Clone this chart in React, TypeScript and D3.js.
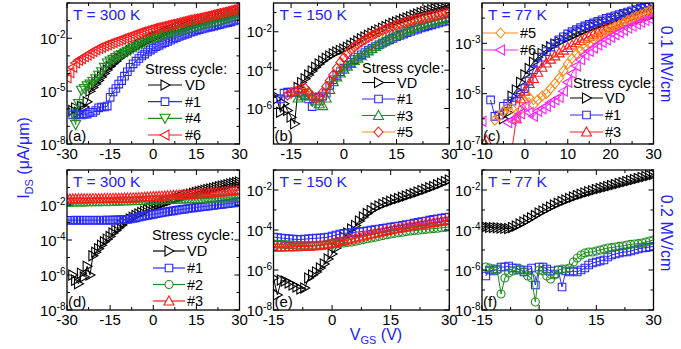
import * as d3 from "d3";

const FONT = "'Liberation Sans', Arial, Helvetica, sans-serif";
const TXT_BLUE = "#2222ff";
const C = { k: "#000000", b: "#2a2aff", g: "#1e8c1e", r: "#ff1a1a", o: "#ff8c1a", m: "#ff22ff" };

// log10(I_DS) values, 1 V steps; null = no point
const a_VD = [-6.1,-5.95,-6.2,-5.85,-5.9,-5.6,-5.0,-4.8,-4.6,-4.4,
  -4.2,-4.0,-3.8,-3.6,-3.45,-3.3,-3.15,-3.02,-2.9,-2.8,
  -2.7,-2.6,-2.5,-2.4,-2.3,-2.21,-2.13,-2.05,-1.97,-1.9,
  -1.83,-1.76,-1.69,-1.62,-1.56,-1.5,-1.44,-1.38,-1.32,-1.27,
  -1.22,-1.17,-1.12,-1.07,-1.02,-0.98,-0.94,-0.9,-0.86,-0.82,
  -0.78,-0.74,-0.7,-0.66,-0.62,-0.58,-0.54,-0.5,-0.46];
const a_1 = [-6.35,-6.35,-6.3,-6.35,-6.3,-6.3,-6.2,-6.2,-6.1,-5.95,
  -5.9,-5.9,-5.85,-5.35,-5.05,-4.85,-4.6,-4.4,-4.15,-3.9,
  -3.65,-3.45,-3.3,-3.15,-3.0,-2.9,-2.78,-2.67,-2.57,-2.48,
  -2.4,-2.32,-2.25,-2.18,-2.11,-2.04,-1.97,-1.9,-1.84,-1.78,
  -1.72,-1.66,-1.61,-1.56,-1.51,-1.47,-1.43,-1.39,-1.35,-1.31,
  -1.27,-1.23,-1.19,-1.15,-1.11,-1.07,-1.02,-0.97,-0.92];
const a_4 = [-6.25,-6.9,-5.7,-4.95,-4.85,-4.7,-4.6,-4.45,-4.3,-4.1,
  -3.9,-3.65,-3.4,-3.3,-3.2,-3.1,-3.0,-2.92,-2.84,-2.76,
  -2.68,-2.58,-2.49,-2.4,-2.32,-2.24,-2.16,-2.08,-2.01,-1.95,
  -1.9,-1.85,-1.8,-1.75,-1.7,-1.65,-1.6,-1.56,-1.52,-1.48,
  -1.44,-1.4,-1.36,-1.32,-1.27,-1.23,-1.19,-1.15,-1.11,-1.07,
  -1.03,-0.99,-0.94,-0.89,-0.84,-0.79,-0.74,-0.69,-0.64];
const a_6 = [-4.25,-3.95,-3.65,-3.4,-3.25,-3.15,-3.05,-2.95,-2.85,-2.75,
  -2.65,-2.57,-2.5,-2.43,-2.37,-2.3,-2.24,-2.18,-2.12,-2.06,
  -2.0,-1.94,-1.88,-1.82,-1.76,-1.7,-1.65,-1.6,-1.55,-1.5,
  -1.45,-1.41,-1.37,-1.33,-1.29,-1.25,-1.21,-1.17,-1.13,-1.09,
  -1.05,-1.01,-0.97,-0.94,-0.91,-0.88,-0.84,-0.8,-0.76,-0.72,
  -0.68,-0.64,-0.6,-0.56,-0.52,-0.48,-0.44,-0.4,-0.36,-0.32,-0.28];

const b_VD = [-5.3,-5.5,-6.2,-5.75,-6.1,-6.45,-6.8,-4.9,-4.65,-4.45,
  -4.25,-4.05,-3.85,-3.68,-3.52,-3.38,-3.26,-3.15,-3.05,-2.97,
  -2.9,-2.8,-2.7,-2.6,-2.48,-2.36,-2.27,-2.18,-2.08,-1.99,
  -1.9,-1.81,-1.72,-1.64,-1.56,-1.49,-1.42,-1.35,-1.28,-1.21,
  -1.14,-1.07,-1.01,-0.95,-0.9,-0.85,-0.8,-0.75,-0.7,-0.65,-0.6];
const b_1 = [-5.5,-5.2,-5.15,-5.15,-5.15,-5.15,-5.2,-5.3,-5.5,-5.9,
  -5.4,-5.4,-5.35,-5.2,-4.8,-4.5,-4.27,-4.08,-3.9,-3.74,
  -3.59,-3.45,-3.32,-3.2,-3.08,-2.97,-2.87,-2.77,-2.68,-2.59,
  -2.5,-2.42,-2.34,-2.26,-2.19,-2.12,-2.05,-1.98,-1.92,-1.86,
  -1.8,-1.74,-1.69,-1.64,-1.59,-1.54,-1.49,-1.45,-1.41];
const b_3 = [-5.45,-5.35,-5.3,-5.15,-5.35,-5.6,-5.75,-5.85,-5.45,-5.0,
  -4.6,-4.35,-4.15,-3.95,-3.8,-3.65,-3.5,-3.38,-3.25,-3.12,
  -3.0,-2.88,-2.76,-2.64,-2.53,-2.42,-2.32,-2.22,-2.13,-2.05,
  -1.97,-1.9,-1.83,-1.76,-1.7,-1.64,-1.58,-1.53,-1.48,-1.43,
  -1.38,-1.34,-1.3,-1.26];
const b_5 = [-5.3,-5.2,-5.1,-5.05,-4.98,-4.95,-5.15,-5.4,-5.45,-5.4,
  -5.15,-4.85,-4.55,-4.25,-3.9,-3.6,-3.35,-3.13,-2.95,-2.8,
  -2.66,-2.53,-2.41,-2.3,-2.2,-2.1,-2.01,-1.93,-1.85,-1.78,
  -1.71,-1.65,-1.59,-1.53,-1.48,-1.43,-1.38,-1.34,-1.3,-1.26,
  -1.22,-1.18,-1.14,-1.1,-1.06,-1.02,-0.98];

const c_VD = [-6.0,-5.75,-5.1,-4.85,-4.55,-4.25,-4.0,-3.75,-3.55,-3.4,
  -3.26,-3.14,-3.03,-2.94,-2.86,-2.78,-2.7,-2.62,-2.54,-2.47,
  -2.4,-2.33,-2.27,-2.21,-2.15,-2.09,-2.03,-1.96,-1.9,-1.84,
  -1.78,-1.72,-1.67,-1.62,-1.57,-1.52];
const c_1 = [-5.25,-5.9,-5.85,-5.5,-5.4,-5.3,-5.15,-5.0,-4.8,-4.5,
  -4.05,-3.8,-3.55,-3.33,-3.15,-3.0,-2.86,-2.74,-2.63,-2.54,
  -2.46,-2.38,-2.31,-2.25,-2.19,-2.13,-2.07,-2.01,-1.96,-1.91,
  -1.86,-1.81,-1.76,-1.71,-1.66,-1.61,-1.56,-1.51,-1.46];
const c_3 = [-6.85,-7.4,-7.6,-7.6,-7.5,-7.3,-7.2,-6.0,-5.2,-4.9,
  -4.6,-4.4,-4.15,-3.95,-3.78,-3.63,-3.5,-3.38,-3.27,-3.17,
  -3.07,-2.98,-2.89,-2.8,-2.72,-2.64,-2.57,-2.5,-2.43,-2.37,
  -2.31,-2.25,-2.19,-2.13,-2.07,-2.01,-1.95,-1.89,-1.83,-1.77];
const c_5 = [-6.05,-5.9,-5.7,-5.56,-5.6,-5.95,-5.65,-5.3,-5.15,-5.45,
  -5.25,-5.1,-5.0,-4.8,-4.6,-4.38,-4.1,-3.82,-3.6,-3.42,
  -3.28,-3.15,-3.02,-2.84,-2.74,-2.64,-2.54,-2.45,-2.36,-2.27,
  -2.18,-2.09,-2.01,-1.93,-1.86,-1.79,-1.72,-1.65];
const c_6 = [-6.1,null,null,null,null,null,-6.15,-6.05,-5.95,-5.8,
  -5.5,-5.75,-5.9,-5.7,-5.6,-5.5,-5.35,-5.25,-5.15,-4.9,
  -4.55,-4.2,-3.9,-3.65,-3.47,-3.32,-3.19,-3.07,-2.96,-2.86,
  -2.76,-2.66,-2.57,-2.48,-2.4,-2.32,-2.24,-2.16,-2.09,-2.02,-1.96];

const d_VD = [-6.0,-6.3,-6.5,-5.9,-6.1,-5.5,-6.0,-4.9,-4.7,-4.5,
  -4.3,-4.1,-3.95,-3.8,-3.6,-3.45,-3.3,-3.15,-3.0,-2.9,
  -2.8,-2.7,-2.6,-2.51,-2.43,-2.35,-2.27,-2.19,-2.11,-2.05,
  -1.99,-1.93,-1.87,-1.81,-1.75,-1.69,-1.63,-1.58,-1.53,-1.48,
  -1.43,-1.38,-1.33,-1.28,-1.24,-1.2,-1.16,-1.12,-1.08,-1.04,
  -1.0,-0.96,-0.92,-0.88,-0.84,-0.8,-0.76,-0.72,-0.68];
const d_1 = [-2.87,-2.87,-2.87,-2.86,-2.87,-2.87,-2.86,-2.87,-2.87,-2.86,
  -2.87,-2.87,-2.86,-2.87,-2.86,-2.86,-2.86,-2.85,-2.85,-2.84,
  -2.83,-2.82,-2.8,-2.77,-2.73,-2.69,-2.65,-2.62,-2.59,-2.56,
  -2.53,-2.5,-2.47,-2.44,-2.41,-2.38,-2.35,-2.33,-2.3,-2.28,
  -2.25,-2.23,-2.2,-2.18,-2.16,-2.14,-2.12,-2.1,-2.08,-2.06,
  -2.04,-2.02,-2.0,-1.98,-1.96,-1.94,-1.92,-1.9,-1.88,-1.85,-1.82];
const d_2 = [-1.85,-1.85,-1.85,-1.84,-1.84,-1.84,-1.84,-1.83,-1.83,-1.83,
  -1.82,-1.82,-1.82,-1.81,-1.81,-1.81,-1.8,-1.8,-1.79,-1.79,
  -1.78,-1.78,-1.77,-1.77,-1.76,-1.76,-1.75,-1.74,-1.74,-1.73,
  -1.72,-1.72,-1.71,-1.71,-1.7,-1.7,-1.69,-1.69,-1.68,-1.68,
  -1.67,-1.67,-1.66,-1.66,-1.65,-1.65,-1.64,-1.64,-1.63,-1.63,
  -1.62,-1.62,-1.61,-1.61,-1.6,-1.6,-1.59,-1.59,-1.58,-1.58,-1.57];
const d_3 = [-1.65,-1.65,-1.65,-1.65,-1.64,-1.64,-1.64,-1.64,-1.64,-1.63,
  -1.63,-1.63,-1.63,-1.62,-1.62,-1.62,-1.62,-1.61,-1.61,-1.61,
  -1.6,-1.6,-1.59,-1.59,-1.58,-1.57,-1.56,-1.55,-1.54,-1.53,
  -1.52,-1.51,-1.5,-1.49,-1.48,-1.47,-1.46,-1.45,-1.44,-1.43,
  -1.42,-1.41,-1.4,-1.39,-1.38,-1.36,-1.35,-1.34,-1.33,-1.32,
  -1.3,-1.29,-1.27,-1.26,-1.24,-1.23,-1.21,-1.2,-1.18,-1.17,-1.15];

const e_VD = [-6.4,-7.25,-6.5,-6.55,-6.65,-6.75,-6.85,-6.95,-6.9,-6.4,
  -6.25,-6.1,-5.9,-5.7,-5.45,-5.2,-4.9,-4.6,-4.35,-4.15,
  -3.95,-3.78,-3.55,-3.35,-3.17,-3.02,-2.9,-2.8,-2.71,-2.63,
  -2.56,-2.49,-2.43,-2.36,-2.3,-2.23,-2.17,-2.1,-2.03,-1.96,
  -1.89,-1.82,-1.74,-1.66,-1.58,-1.5];
const e_1 = [-4.35,-4.38,-4.4,-4.42,-4.44,-4.46,-4.47,-4.47,-4.46,-4.44,
  -4.42,-4.41,-4.4,-4.38,-4.35,-4.3,-4.25,-4.2,-4.17,-4.15,
  -4.13,-4.11,-4.09,-4.07,-4.04,-4.01,-3.98,-3.95,-3.92,-3.89,
  -3.86,-3.83,-3.8,-3.77,-3.73,-3.7,-3.66,-3.62,-3.58,-3.55,
  -3.51,-3.47,-3.44,-3.41,-3.38,-3.35];
const e_2 = [-4.7,-4.71,-4.72,-4.73,-4.74,-4.75,-4.76,-4.77,-4.78,-4.78,
  -4.78,-4.77,-4.76,-4.75,-4.74,-4.72,-4.7,-4.67,-4.65,-4.62,
  -4.6,-4.56,-4.52,-4.48,-4.44,-4.4,-4.36,-4.32,-4.28,-4.24,
  -4.2,-4.17,-4.14,-4.11,-4.08,-4.05,-4.03,-4.01,-3.99,-3.97,
  -3.95,-3.93,-3.91,-3.89,-3.87,-3.85];
const e_3 = [-4.85,-4.85,-4.85,-4.84,-4.84,-4.83,-4.83,-4.82,-4.82,-4.81,
  -4.8,-4.78,-4.76,-4.73,-4.69,-4.65,-4.61,-4.57,-4.53,-4.49,
  -4.45,-4.4,-4.35,-4.3,-4.25,-4.2,-4.16,-4.11,-4.07,-4.02,
  -3.98,-3.94,-3.91,-3.87,-3.84,-3.8,-3.77,-3.74,-3.71,-3.68,
  -3.65,-3.62,-3.59,-3.56,-3.53,-3.5];

const f_VD = [-3.82,-3.85,-3.87,-3.88,-3.89,-3.9,-3.92,-3.93,-3.88,-3.8,
  -3.7,-3.6,-3.5,-3.39,-3.27,-3.15,-3.05,-2.95,-2.85,-2.75,
  -2.66,-2.58,-2.5,-2.42,-2.35,-2.28,-2.21,-2.15,-2.09,-2.04,
  -1.98,-1.93,-1.88,-1.83,-1.78,-1.73,-1.68,-1.63,-1.58,-1.53,
  -1.48,-1.43,-1.38,-1.33,-1.28,-1.23];
const f_1 = [-6.3,-6.0,-6.05,-5.95,-5.85,-5.85,-5.8,-5.9,-5.9,-6.0,
  -6.1,-6.0,-5.9,-6.75,-5.85,-5.85,-5.95,-6.05,-6.2,-6.0,
  -6.85,-6.05,-6.1,-6.05,-6.1,-6.0,-5.9,-5.75,-5.65,-5.6,
  -5.55,-5.5,-5.35,-5.25,-5.2,-5.15,-5.1,-5.1,-5.05,-5.0,
  -4.95,-4.9,-4.88,-4.85,-4.82];
const f_2 = [-5.85,-5.9,-5.95,-6.0,-7.2,-6.4,-6.15,-6.05,-6.0,-5.95,
  -6.1,-6.3,-6.4,-7.6,-6.0,-6.05,-6.3,-6.45,-6.25,-6.0,
  -5.95,-5.95,-5.9,-5.6,-5.4,-5.25,-5.15,-5.1,-5.1,-5.05,
  -5.0,-4.95,-4.9,-4.88,-4.85,-4.82,-4.8,-4.75,-4.72,-4.7,
  -4.68,-4.65,-4.6,-4.55,-4.5];

type Shape = "right" | "left" | "up" | "down" | "square" | "circle" | "diamond";
type Series = { start: number; data: (number | null)[]; shape: Shape; mark: string; line: string };
type LegendItem = { label: string; shape: Shape; mark: string; line: string; y: number };
type Legend = { title?: string; tx?: number; ty?: number; x1: number; x2: number; textX: number; items: LegendItem[] };
type PanelCfg = {
  tag: string; temp: string; left: number; right: number; top: number; bottom: number;
  xDom: [number, number]; xTicks: number[]; xMinor: number[];
  yDom: [number, number]; yLabels: number[];
  series: Series[]; legends: Legend[];
};

const s = (start: number, data: (number | null)[], shape: Shape, mark: string, line = mark): Series =>
  ({ start, data, shape, mark, line });

const TOP = { top: 3, bottom: 144 };
const BOT = { top: 170, bottom: 310 };
const COL = [
  { left: 67, right: 239.5 },
  { left: 273.5, right: 449.3 },
  { left: 482, right: 653.5 },
];

const panels: PanelCfg[] = [
  {
    tag: "(a)", temp: "T = 300 K", ...COL[0], ...TOP,
    xDom: [-30, 30], xTicks: [-30, -15, 0, 15, 30], xMinor: [-22.5, -7.5, 7.5, 22.5],
    yDom: [-8, 0], yLabels: [-8, -5, -2],
    series: [s(-28, a_VD, "right", C.k), s(-28, a_1, "square", C.b), s(-28, a_4, "down", C.g), s(-30, a_6, "left", C.r)],
    legends: [{
      title: "Stress cycle:", tx: 145, ty: 74, x1: 148, x2: 182, textX: 185,
      items: [
        { label: "VD", shape: "right", mark: C.k, line: C.k, y: 85 },
        { label: "#1", shape: "square", mark: C.b, line: C.b, y: 101.7 },
        { label: "#4", shape: "down", mark: C.g, line: C.g, y: 118.3 },
        { label: "#6", shape: "left", mark: C.r, line: C.r, y: 135 },
      ],
    }],
  },
  {
    tag: "(b)", temp: "T = 150 K", ...COL[1], ...TOP,
    xDom: [-20, 30], xTicks: [-15, 0, 15, 30], xMinor: [-7.5, 7.5, 22.5],
    yDom: [-7.85, -0.5], yLabels: [-6, -4, -2],
    series: [s(-20, b_VD, "right", C.k), s(-18, b_1, "square", C.b), s(-13, b_3, "up", C.g, C.r), s(-16, b_5, "diamond", C.r, C.o)],
    legends: [{
      title: "Stress cycle:", tx: 362, ty: 73, x1: 362, x2: 395, textX: 397,
      items: [
        { label: "VD", shape: "right", mark: C.k, line: C.k, y: 82.5 },
        { label: "#1", shape: "square", mark: C.b, line: C.b, y: 99 },
        { label: "#3", shape: "up", mark: C.g, line: C.r, y: 115.5 },
        { label: "#5", shape: "diamond", mark: C.r, line: C.o, y: 132 },
      ],
    }],
  },
  {
    tag: "(c)", temp: "T = 77 K", ...COL[2], ...TOP,
    xDom: [-10, 30], xTicks: [-10, 0, 10, 20, 30], xMinor: [-5, 5, 15, 25],
    yDom: [-7, -1.4], yLabels: [-7, -5, -3],
    series: [s(-5, c_VD, "right", C.k), s(-8, c_1, "square", C.b), s(-9, c_3, "up", C.r), s(-7, c_5, "diamond", C.o), s(-10, c_6, "left", C.m)],
    legends: [
      {
        x1: 483, x2: 518, textX: 520,
        items: [
          { label: "#5", shape: "diamond", mark: C.o, line: C.o, y: 33 },
          { label: "#6", shape: "left", mark: C.m, line: C.m, y: 50 },
        ],
      },
      {
        title: "Stress cycle:", tx: 573, ty: 87.5, x1: 570, x2: 603, textX: 605,
        items: [
          { label: "VD", shape: "right", mark: C.k, line: C.k, y: 98 },
          { label: "#1", shape: "square", mark: C.b, line: C.b, y: 115 },
          { label: "#3", shape: "up", mark: C.r, line: C.r, y: 132 },
        ],
      },
    ],
  },
  {
    tag: "(d)", temp: "T = 300 K", ...COL[0], ...BOT,
    xDom: [-30, 30], xTicks: [-30, -15, 0, 15, 30], xMinor: [-22.5, -7.5, 7.5, 22.5],
    yDom: [-8, 0], yLabels: [-8, -6, -4, -2],
    series: [s(-28, d_VD, "right", C.k), s(-30, d_1, "square", C.b), s(-30, d_2, "circle", C.g), s(-30, d_3, "up", C.r)],
    legends: [{
      title: "Stress cycle:", tx: 152, ty: 240, x1: 153, x2: 185, textX: 187,
      items: [
        { label: "VD", shape: "right", mark: C.k, line: C.k, y: 251 },
        { label: "#1", shape: "square", mark: C.b, line: C.b, y: 268 },
        { label: "#2", shape: "circle", mark: C.g, line: C.g, y: 284.5 },
        { label: "#3", shape: "up", mark: C.r, line: C.r, y: 301 },
      ],
    }],
  },
  {
    tag: "(e)", temp: "T = 150 K", ...COL[1], ...BOT,
    xDom: [-15, 30], xTicks: [-15, 0, 15, 30], xMinor: [-7.5, 7.5, 22.5],
    yDom: [-8, -1], yLabels: [-8, -6, -4, -2],
    series: [s(-15, e_VD, "right", C.k), s(-15, e_1, "square", C.b), s(-15, e_2, "circle", C.g), s(-15, e_3, "up", C.r)],
    legends: [],
  },
  {
    tag: "(f)", temp: "T = 77 K", ...COL[2], ...BOT,
    xDom: [-15, 30], xTicks: [-15, 0, 15, 30], xMinor: [-7.5, 7.5, 22.5],
    yDom: [-8, -1], yLabels: [-8, -6, -4, -2],
    series: [s(-15, f_VD, "right", C.k), s(-14, f_1, "square", C.b), s(-14, f_2, "circle", C.g)],
    legends: [],
  },
];

// marker outline centred at 0,0
const shapePath = (shape: Shape) => {
  switch (shape) {
    case "right": return "M-4,-5L5,0L-4,5Z";
    case "left": return "M4,-5L-5,0L4,5Z";
    case "up": return "M0,-5L5,4L-5,4Z";
    case "down": return "M0,5L5,-4L-5,-4Z";
    case "diamond": return "M0,-5L4.5,0L0,5L-4.5,0Z";
    default: return "M-3.8,-3.8H3.8V3.8H-3.8Z";
  }
};

const Marker = ({ shape, x, y, color, fill = "none" }: { shape: Shape; x: number; y: number; color: string; fill?: string }) =>
  shape === "circle"
    ? <circle cx={x} cy={y} r={4} fill={fill} stroke={color} strokeWidth={1.1} />
    : <path d={shapePath(shape)} transform={`translate(${x},${y})`} fill={fill} stroke={color} strokeWidth={1.1} strokeLinejoin="miter" />;

function Panel({ p, idx }: { p: PanelCfg; idx: number }) {
  const x = d3.scaleLinear().domain(p.xDom).range([p.left, p.right]);
  const y = d3.scaleLog().domain([10 ** p.yDom[0], 10 ** p.yDom[1]]).range([p.bottom, p.top]);
  const decades = d3.range(Math.ceil(p.yDom[0] - 1e-9), Math.floor(p.yDom[1] + 1e-9) + 1);
  const clipId = `clip${idx}`;
  const pts = (sr: Series) => sr.data.map((v, i) => [sr.start + i, v] as [number, number | null]);
  const line = d3.line<[number, number | null]>()
    .defined((d) => d[1] !== null)
    .x((d) => x(d[0]))
    .y((d) => y(10 ** (d[1] as number)));
  const maj = 5, mnr = 3;

  return (
    <g>
      <defs>
        <clipPath id={clipId}>
          <rect x={p.left} y={p.top} width={p.right - p.left} height={p.bottom - p.top} />
        </clipPath>
      </defs>
      <g clipPath={`url(#${clipId})`}>
        {p.series.map((sr, k) => (
          <g key={k}>
            <path d={line(pts(sr)) || ""} fill="none" stroke={sr.line} strokeWidth={1} />
            {pts(sr).filter((d) => d[1] !== null).map((d, j) => (
              <Marker key={j} shape={sr.shape} x={x(d[0])} y={y(10 ** (d[1] as number))} color={sr.mark} />
            ))}
          </g>
        ))}
      </g>

      {/* frame */}
      <rect x={p.left} y={p.top} width={p.right - p.left} height={p.bottom - p.top} fill="none" stroke="#000" strokeWidth={1.3} />

      {/* x ticks, mirrored on top */}
      {p.xTicks.map((t) => (
        <g key={`xt${t}`}>
          <line x1={x(t)} x2={x(t)} y1={p.bottom} y2={p.bottom - maj} stroke="#000" strokeWidth={1} />
          <line x1={x(t)} x2={x(t)} y1={p.top} y2={p.top + maj} stroke="#000" strokeWidth={1} />
          <text x={x(t)} y={p.bottom + 14.5} textAnchor="middle" fontSize={15} fontFamily={FONT}>{t}</text>
        </g>
      ))}
      {p.xMinor.map((t) => (
        <g key={`xm${t}`}>
          <line x1={x(t)} x2={x(t)} y1={p.bottom} y2={p.bottom - mnr} stroke="#000" strokeWidth={1} />
          <line x1={x(t)} x2={x(t)} y1={p.top} y2={p.top + mnr} stroke="#000" strokeWidth={1} />
        </g>
      ))}

      {/* y ticks per decade, mirrored on right */}
      {decades.map((e) => {
        const yy = y(10 ** e);
        const len = p.yLabels.includes(e) ? maj : mnr;
        return (
          <g key={`yt${e}`}>
            <line x1={p.left} x2={p.left + len} y1={yy} y2={yy} stroke="#000" strokeWidth={1} />
            <line x1={p.right} x2={p.right - len} y1={yy} y2={yy} stroke="#000" strokeWidth={1} />
            {p.yLabels.includes(e) && (
              <text x={p.left - 1.5} y={yy + 5.5} textAnchor="end" fontSize={15} fontFamily={FONT}>
                10<tspan dy={-5.5} fontSize={10}>{e}</tspan>
              </text>
            )}
          </g>
        );
      })}

      <text x={p.left + 6} y={p.top + 17} fontSize={15.5} fill={TXT_BLUE} fontFamily={FONT}>{p.temp}</text>
      <text x={p.left + 1} y={p.bottom - 3} fontSize={15} fontFamily={FONT}>{p.tag}</text>

      {p.legends.map((lg, k) => (
        <g key={`lg${k}`} fontFamily={FONT} fontSize={14.5}>
          {lg.title && <text x={lg.tx} y={lg.ty}>{lg.title}</text>}
          {lg.items.map((it) => (
            <g key={it.label}>
              <line x1={lg.x1} x2={lg.x2} y1={it.y} y2={it.y} stroke={it.line} strokeWidth={1.2} />
              <Marker shape={it.shape} x={(lg.x1 + lg.x2) / 2} y={it.y} color={it.mark} fill="#fff" />
              <text x={lg.textX} y={it.y + 5}>{it.label}</text>
            </g>
          ))}
        </g>
      ))}
    </g>
  );
}

export default function App() {
  return (
    <div style={{ position: "fixed", left: 0, top: 0 }}>
      <svg width={681} height={349} viewBox="0 0 681 349" style={{ display: "block", background: "#fff" }}>
        {panels.map((p, i) => <Panel key={p.tag} p={p} idx={i} />)}
        <text transform="translate(29,158) rotate(-90)" textAnchor="middle" fontSize={16} fill={TXT_BLUE} fontFamily={FONT}>
          I<tspan dy={4} fontSize={11}>DS</tspan><tspan dy={-4}> (μA/μm)</tspan>
        </text>
        <text x={376} y={340} textAnchor="middle" fontSize={16} fill={TXT_BLUE} fontFamily={FONT}>
          V<tspan dy={4} fontSize={11}>GS</tspan><tspan dy={-4}> (V)</tspan>
        </text>
        <text transform="translate(661,64) rotate(90)" textAnchor="middle" fontSize={16} fill={TXT_BLUE} fontFamily={FONT}>0.1 MV/cm</text>
        <text transform="translate(661,233) rotate(90)" textAnchor="middle" fontSize={16} fill={TXT_BLUE} fontFamily={FONT}>0.2 MV/cm</text>
      </svg>
    </div>
  );
}
